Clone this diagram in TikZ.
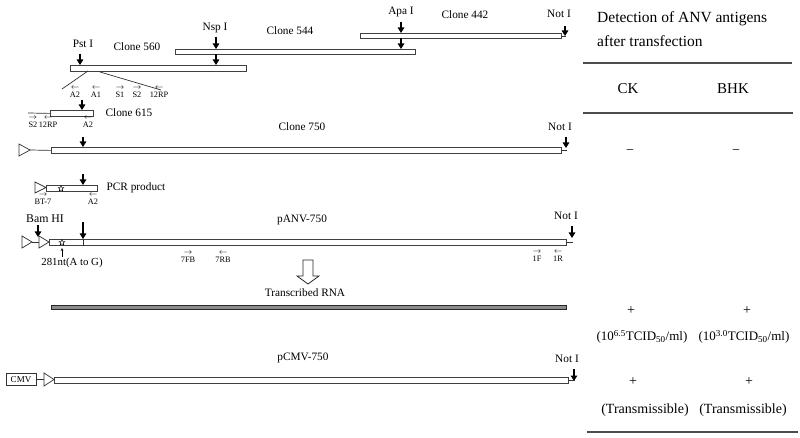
\documentclass[tikz,border=0pt]{standalone}
\usepackage{fontspec}
\setmainfont{Liberation Serif}
\usetikzlibrary{arrows.meta,shapes.geometric}
\begin{document}
\begin{tikzpicture}[x=1pt,y=-1pt,
  bar/.style={draw=black!75, fill=white, line width=0.8pt, inner sep=0pt, anchor=north west},
  rnabar/.style={draw=black!85, fill=black!45, line width=1pt, inner sep=0pt, anchor=north west},
  site/.style={-{Triangle[length=5.5pt,width=6.5pt]}, line width=1.1pt},
  lbl/.style={font=\fontsize{11.3}{13}\selectfont, inner sep=1pt},
  prm/.style={font=\fontsize{8.3}{8}\selectfont, align=center, inner sep=0.5pt},
  tbl/.style={font=\fontsize{14}{16}\selectfont, inner sep=1pt},
  hdr/.style={font=\fontsize{15.5}{18}\selectfont, inner sep=1pt, anchor=west},
  prom/.style={draw=black!80, fill=white, line width=0.7pt, line join=miter},
  thinl/.style={draw=black!80, line width=0.7pt},
  rulel/.style={draw=black!70, line width=1.1pt},
  staro/.style={star, star points=5, star point ratio=2.3, draw, line width=0.45pt, minimum size=6pt, inner sep=0pt}
]
\useasboundingbox (0,0) rectangle (800,438);

% ---------------- bars
\node[bar,minimum width=201pt,minimum height=5pt] (c442) at (360,33) {};
\node[bar,minimum width=240pt,minimum height=5pt] (c544) at (175,49) {};
\node[bar,minimum width=176pt,minimum height=6pt] (c560) at (70,65) {};
\node[bar,minimum width=43pt,minimum height=6pt] (c615) at (50,110) {};
\node[bar,minimum width=510pt,minimum height=6pt] (c750) at (51,147) {};
\node[bar,minimum width=51pt,minimum height=6pt] (pcr) at (46,185) {};
\node[bar,minimum width=517pt,minimum height=6pt] (panv) at (49,239) {};
\node[rnabar,minimum width=515pt,minimum height=4pt] (rna) at (51,305) {};
\node[bar,minimum width=514pt,minimum height=6pt] (pcmv) at (54,377) {};

% ---------------- labels
\node[lbl] (apa) at (401,12) {Apa I};
\node[lbl] (l442) at (465,15) {Clone 442};
\node[lbl] (not1) at (559,14) {Not I};
\node[lbl] (nsp) at (215,28) {Nsp I};
\node[lbl] (l544) at (290,31) {Clone 544};
\node[lbl] (pst) at (83,44) {Pst I};
\node[lbl] (l560) at (137,47) {Clone 560};
\node[lbl] (l615) at (129,113) {Clone 615};
\node[lbl] (l750) at (302,127) {Clone 750};
\node[lbl] (not2) at (560,127) {Not I};
\node[lbl] (lpcr) at (136,188) {PCR product};
\node[lbl,font=\fontsize{11.8}{13}\selectfont] (bam) at (45,219) {Bam HI};
\node[lbl] (lanv) at (302,220) {pANV-750};
\node[lbl] (not3) at (566,216) {Not I};
\node[lbl,font=\fontsize{10.8}{12}\selectfont] (mut) at (72,263) {281nt(A to G)};
\node[lbl] (lrna) at (305,293) {Transcribed RNA};
\node[lbl] (lcmv) at (303,358) {pCMV-750};
\node[lbl] (not4) at (567,359) {Not I};

% ---------------- restriction sites
\coordinate (sa1) at (401,22);
\coordinate (sa2) at (401,38.5);
\draw[site] (sa1) -- (sa1 |- c442.north);
\draw[site] (sa2) -- (sa2 |- c544.north);
\coordinate (sn1) at (216,37);
\coordinate (sn2) at (216,54.5);
\draw[site] (sn1) -- (sn1 |- c544.north);
\draw[site] (sn2) -- (sn2 |- c560.north);
\coordinate (sp1) at (80,54);
\draw[site] (sp1) -- (sp1 |- c560.north);
\coordinate (sx1) at (565,26);
\draw[site] (sx1) -- (565,36);
\draw[thinl] (c442.east) -- ++(4,0);

\coordinate (s615) at (82,100);
\draw[site] (s615) -- (s615 |- c615.north);
\coordinate (s750) at (83,137);
\draw[site] (s750) -- (s750 |- c750.north);
\coordinate (sx2) at (566,137);
\draw[site] (sx2) -- (566,148);
\draw[thinl] (c750.east) -- ++(5,0);

\coordinate (spcr) at (83,174);
\draw[site] (spcr) -- (spcr |- pcr.north);
\coordinate (sbam) at (38,225);
\draw[site] (sbam) -- (38,237);
\coordinate (sanv) at (83,222);
\draw[site] (sanv) -- (sanv |- panv.north);
\draw[thinl] (sanv |- panv.north) -- (sanv |- panv.south);
\coordinate (sx3) at (572,226);
\draw[site] (sx3) -- (572,238);
\draw[thinl] (panv.east) -- ++(6,0);
\coordinate (sx4) at (574,369);
\draw[site] (sx4) -- (574,381);
\draw[thinl] (pcmv.east) -- ++(6,0);

% ---------------- expansion lines
\draw[thinl] (88,71) -- (62,89);
\draw[thinl] (100,72) -- (161,90);

% ---------------- primers
\node[prm] (pa2) at (75,92) {$\leftarrow$\\A2};
\node[prm] (pa1) at (96,92) {$\leftarrow$\\A1};
\node[prm] (ps1) at (120,92) {$\rightarrow$\\S1};
\node[prm] (ps2) at (137,92) {$\rightarrow$\\S2};
\node[prm] (p12) at (159,92) {$\leftarrow$\\12RP};
\draw[thinl] (28,113) -- (c615.west);
\node[prm] (qs2) at (33,122) {$\rightarrow$\\S2};
\node[prm] (q12) at (48,122) {$\leftarrow$\\12RP};
\node[prm] (qa2) at (88,122) {$\leftarrow$\\A2};
\node[prm] (bt7) at (43,199) {$\rightarrow$\\BT-7};
\node[prm] (ra2) at (93,199) {$\leftarrow$\\A2};
\node[prm] (f7) at (188,257) {$\rightarrow$\\7FB};
\node[prm] (r7) at (223,257) {$\leftarrow$\\7RB};
\node[prm] (f1) at (537,256) {$\rightarrow$\\1F};
\node[prm] (r1) at (558,256) {$\leftarrow$\\1R};

% ---------------- promoters
\draw[prom] (19,144) -- (19,156) -- (30,150) -- cycle;
\coordinate (t750) at (30,150);
\draw[thinl] (t750) -- (c750.west);

\draw[prom] (35,182) -- (35,193) -- (46,187.5) -- cycle;

\draw[prom] (22,236) -- (22,248) -- (32,242) -- cycle;
\coordinate (ta) at (32,242);
\coordinate (tb) at (39,242);
\draw[thinl] (ta) -- (tb);
\draw[prom] (39,236) -- (39,248) -- (49,242) -- cycle;

\node[draw=black!80, line width=0.7pt, minimum width=30pt, minimum height=12pt, inner sep=0pt, font=\fontsize{9}{9}\selectfont] (cmv) at (21,379.5) {CMV};
\coordinate (tc) at (44,379.5);
\draw[thinl] (cmv.east) -- (tc);
\draw[prom] (44,373) -- (44,386) -- (54,379.5) -- cycle;

% ---------------- stars and mutation
\node[staro] (st1) at (61,188.5) {};
\node[staro] (st2) at (62,242.5) {};
\draw[-{Stealth[length=3pt,width=2.5pt]}, line width=0.5pt] (mut.north -| st2) -- (62,248);

% ---------------- hollow arrow
\draw[draw=black!85, line width=0.8pt, fill=white] (303,260) -- (313,260) -- (313,276) -- (319,276) -- (308,284) -- (297,276) -- (303,276) -- cycle;

% ---------------- right table
\node[hdr] (h1) at (596,19) {Detection of ANV antigens};
\node[hdr] (h2) at (596,41) {after transfection};
\draw[rulel] (583,63) -- (792,63);
\node[tbl,font=\fontsize{15}{17}\selectfont] (ck) at (628,89) {CK};
\node[tbl,font=\fontsize{15}{17}\selectfont] (bhk) at (733,89) {BHK};
\draw[rulel] (583,113) -- (793,113);
\node[tbl] (m1) at (630,152) {\textminus};
\node[tbl] (m2) at (736,152) {\textminus};
\node[tbl] (p1) at (631,311) {+};
\node[tbl] (p2) at (747,311) {+};
\node[tbl,font=\fontsize{13}{15}\selectfont] (v1) at (642,337) {(10\textsuperscript{6.5}TCID\textsubscript{50}/ml)};
\node[tbl,font=\fontsize{13}{15}\selectfont] (v2) at (744,337) {(10\textsuperscript{3.0}TCID\textsubscript{50}/ml)};
\node[tbl] (p3) at (633,382) {+};
\node[tbl] (p4) at (749,382) {+};
\node[tbl] (t1) at (645,410) {(Transmissible)};
\node[tbl] (t2) at (743,410) {(Transmissible)};
\draw[rulel] (587,432) -- (798,432);
\end{tikzpicture}
\end{document}
